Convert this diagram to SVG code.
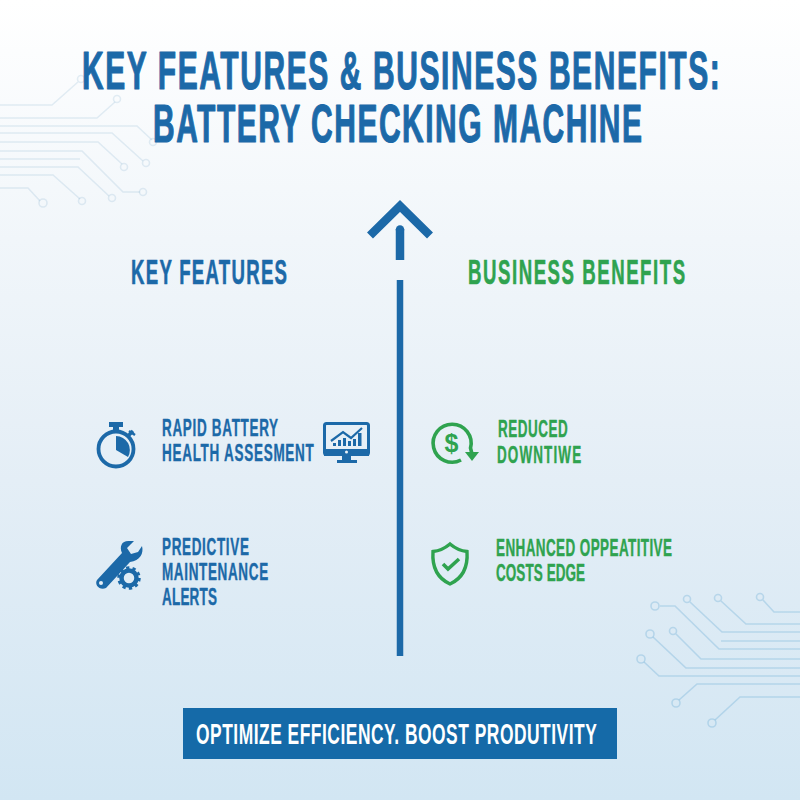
<svg xmlns="http://www.w3.org/2000/svg" width="800" height="800" viewBox="0 0 800 800">
<style>
text{font-family:"Liberation Sans",Arial,sans-serif;font-weight:700;stroke-linejoin:round}
.blue{fill:#1c69a8}.green{fill:#2fa34f}
text.blue{stroke:#1c69a8}text.green{stroke:#2fa34f;stroke-width:0}
.t{font-size:53.500px;stroke-width:1.200}
text.h{font-size:34.500px;stroke-width:.6}
text.b{font-size:24.500px;stroke-width:.4}
.c{fill:none;stroke:#1c69a8;stroke-opacity:.11;stroke-width:1.600}
.d{fill:none;stroke:#4a9ccb;stroke-opacity:.26;stroke-width:1.600}
.ib{fill:none;stroke:#1c69a8}.ig{fill:none;stroke:#2fa34f}
</style>
<defs><linearGradient id="bg" x1="0" y1="0" x2="0" y2="1"><stop offset="0" stop-color="#ffffff"/><stop offset=".3" stop-color="#f1f6fa"/><stop offset=".6" stop-color="#e4eef6"/><stop offset="1" stop-color="#d2e6f3"/></linearGradient></defs>
<rect width="800" height="800" fill="url(#bg)"/>
<g id="circuit-top-left" class="c">
<path d="M0 105H52L78 82M0 118H97L115 102M0 126H137L152 140M0 133H112L143 161M0 142H98L122 164M0 151H82L123 192H140M0 159H80M0 167H78L109 196M0 175H53L80 199M0 188H28L40 201"/>
<circle cx="81" cy="79" r="3.500"/><circle cx="117" cy="99" r="3.500"/><circle cx="153" cy="142" r="3.500"/><circle cx="146" cy="163" r="3.500"/><circle cx="124" cy="167" r="3.500"/><circle cx="143" cy="192" r="3.500"/><circle cx="112" cy="198" r="3.500"/><circle cx="82" cy="201" r="3.500"/><circle cx="43" cy="203" r="4"/>
</g>
<g id="circuit-bottom-right" class="d">
<path d="M660 606H675L719 649H800M690 602L722 632H800M721 601L746 624H800M763 600L774 612H800M721 641H800M676 634L701 659H800M653 637L686 668H800M644 662L659 676H800M679 700L697 684H800M715 720L740 697H800"/>
<circle cx="655" cy="606" r="4"/><circle cx="687" cy="599" r="3.500"/><circle cx="718" cy="598" r="3.500"/><circle cx="760" cy="597" r="3.500"/><circle cx="673" cy="631" r="3.500"/><circle cx="650" cy="634" r="4"/><circle cx="641" cy="659" r="4"/><circle cx="676" cy="703" r="4"/><circle cx="712" cy="723" r="4"/>
</g>
<g id="title">
<text class="blue t" transform="translate(82 89) scale(.56 1)" textLength="1139" lengthAdjust="spacing">KEY FEATURES &amp; BUSINESS BENEFITS:</text>
<text class="blue t" transform="translate(153 142) scale(.56 1)" textLength="873" lengthAdjust="spacing">BATTERY CHECKING MACHINE</text>
</g>
<g id="connectors">
<path d="M370 235.500L400 206L430 235.500" fill="none" stroke="#1c69a8" stroke-width="8.500"/>
<path d="M400 229V260" fill="none" stroke="#1c69a8" stroke-width="8.500"/>
<circle cx="400" cy="229.500" r="4.250" fill="#1c69a8"/>
<path d="M400 280V656" fill="none" stroke="#1c69a8" stroke-width="6.500"/>
</g>
<g id="heading-features"><text class="blue h" transform="translate(131 284) scale(.54 1)" textLength="289" lengthAdjust="spacing">KEY FEATURES</text></g>
<g id="heading-benefits"><text class="green h" transform="translate(468 284) scale(.54 1)" textLength="402" lengthAdjust="spacing">BUSINESS BENEFITS</text></g>
<g id="node-rapid">
<circle class="ib" cx="116" cy="449" r="17.500" stroke-width="3.800"/>
<path d="M116 450V436A14 14 0 0 1 128 457Z" class="blue"/>
<rect class="blue" x="109" y="422" width="14" height="5"/><rect class="blue" x="113" y="426" width="6" height="6"/>
<path d="M128 436L133 431" class="ib" stroke-width="3.500"/><path d="M129 431L135 435" class="ib" stroke-width="2.500"/>
<text class="blue b" transform="translate(162 436) scale(.55 1)" textLength="211" lengthAdjust="spacing">RAPID BATTERY</text>
<text class="blue b" transform="translate(162 461) scale(.55 1)" textLength="276" lengthAdjust="spacing">HEALTH ASSESMENT</text>
</g>
<g id="node-monitor">
<rect class="ib" x="324.500" y="423.500" width="44" height="31" rx="2" stroke-width="3"/>
<rect class="blue" x="324" y="449" width="45" height="7"/>
<circle cx="346.500" cy="452" r="1.500" fill="#eaf2f8"/>
<path class="blue" d="M342 456H351V460H357V463H337V460H342Z"/>
<path class="blue" d="M333 443h3v3h-3zM338 440h3v6h-3zM343 438h3v8h-3zM348 441h3v5h-3zM353 439h3v7h-3zM358 433h3.500v13h-3.500z"/>
<path class="ib" stroke-width="2.200" d="M331 441L343 432L351 438L362 428"/>
</g>
<g id="node-predictive">
<path class="blue" d="M97 580L122 553C119 546 122 540 130 541L134 541L127 548L131 554L138 552L142 546C144 553 140 561 130 562L106 588C100 591 94 585 97 580Z"/>
<circle cx="101" cy="583" r="2" fill="#e5eff6"/>
<circle class="ib" cx="129" cy="578" r="7.500" stroke-width="4.500"/>
<circle class="ib" cx="129" cy="578" r="10" stroke-width="3.500" stroke-dasharray="3.200 3.080"/>
<text class="blue b" transform="translate(162 555) scale(.55 1)" textLength="158" lengthAdjust="spacing">PREDICTIVE</text>
<text class="blue b" transform="translate(162 580) scale(.55 1)" textLength="193" lengthAdjust="spacing">MAINTENANCE</text>
<text class="blue b" transform="translate(162 605) scale(.55 1)" textLength="100" lengthAdjust="spacing">ALERTS</text>
</g>
<g id="node-downtime">
<path class="ig" stroke-width="3.600" d="M461 460A19 19 0 1 1 470.500 448L472 454"/>
<path d="M465 452H479L472 461Z" class="green"/>
<text class="green" x="451.500" y="452" font-size="25" text-anchor="middle">$</text>
<text class="green b" transform="translate(498 437) scale(.55 1)" textLength="127" lengthAdjust="spacing">REDUCED</text>
<text class="green b" transform="translate(497 463) scale(.55 1)" textLength="153" lengthAdjust="spacing">DOWNTIWE</text>
</g>
<g id="node-advantage">
<path class="ig" stroke-width="3.400" d="M450 544C456 549 461 551 467 551.500C468 566 463 578 450 584C437 578 432 566 433 551.500C439 551 444 549 450 544Z"/>
<path class="ig" stroke-width="3.600" d="M443 564L448 569L459 559"/>
<text class="green b" transform="translate(496 556) scale(.55 1)" textLength="320" lengthAdjust="spacing">ENHANCED OPPEATITIVE</text>
<text class="green b" transform="translate(496 581) scale(.55 1)" textLength="162" lengthAdjust="spacing">COSTS EDGE</text>
</g>
<g id="banner">
<rect x="183" y="708" width="434" height="51" fill="#156aa8"/>
<text transform="translate(196 744) scale(.6 1)" font-size="29" fill="#ffffff" textLength="668" lengthAdjust="spacing">OPTIMIZE EFFICIENCY. BOOST PRODUTIVITY</text>
</g>
</svg>
